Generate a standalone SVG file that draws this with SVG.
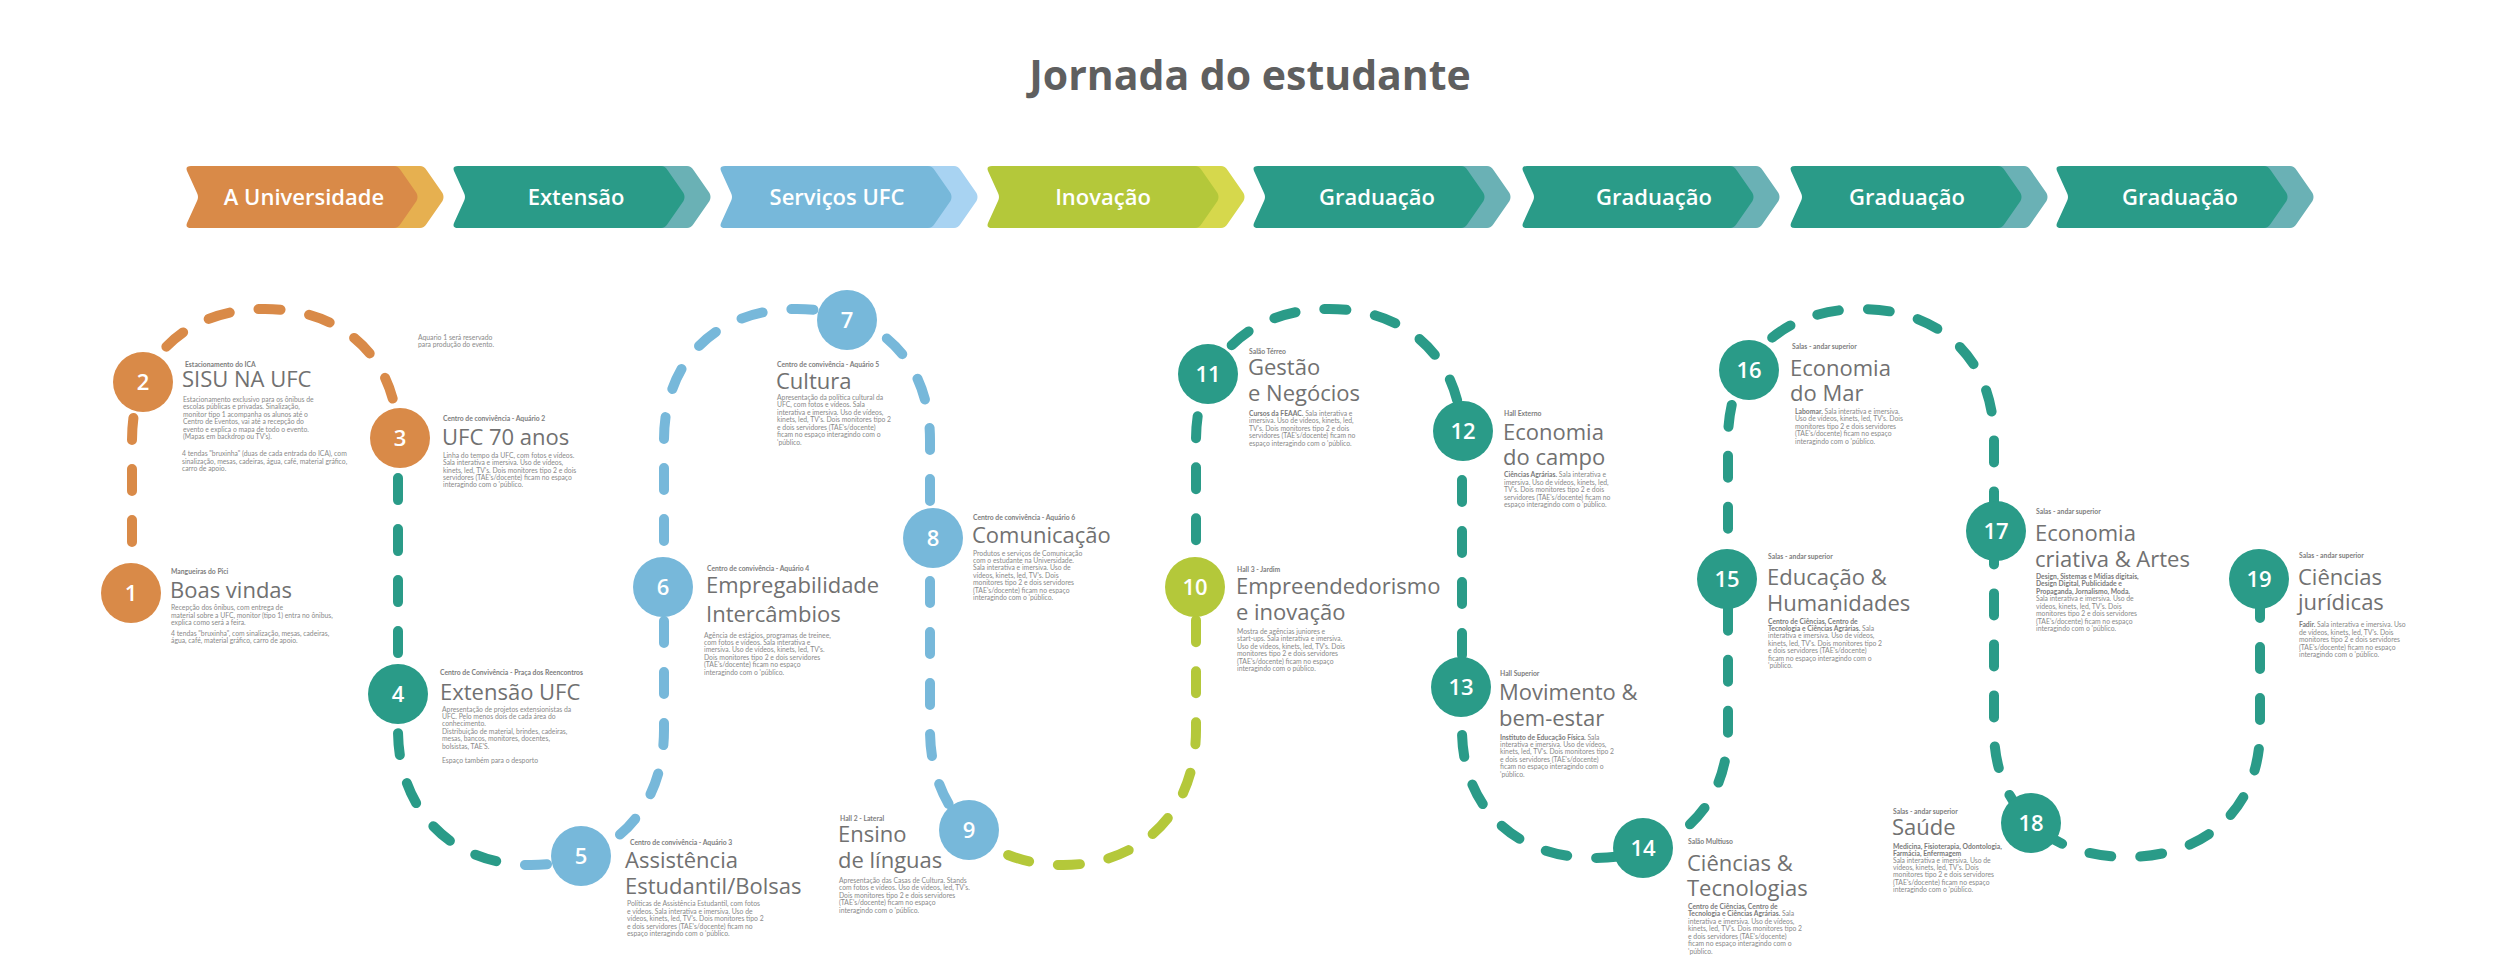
<svg xmlns="http://www.w3.org/2000/svg" xmlns:xlink="http://www.w3.org/1999/xlink" width="2500" height="972" viewBox="0 0 2500 972">
<style>
.title{font-family:"Open Sans","Liberation Sans",sans-serif;font-size:41px;font-weight:700;fill:#5f5f5f;text-anchor:middle}
.bt{font-family:"Open Sans","Liberation Sans",sans-serif;font-size:22px;font-weight:600;fill:#ffffff;text-anchor:middle}
.ttl{font-family:"Open Sans","Liberation Sans",sans-serif;font-size:22px;font-weight:500;fill:#717171}
.loc{font-family:"Lato","Liberation Sans",sans-serif;font-size:6.8px;font-weight:700;fill:#7d7d7d}
.desc{font-family:"Lato","Liberation Sans",sans-serif;font-size:6.8px;fill:#8a8a8a}
.desc .b{font-weight:700;fill:#7a7a7a}
.num{font-family:"Open Sans","Liberation Sans",sans-serif;font-size:22px;font-weight:600;fill:#ffffff;text-anchor:middle}
.route{fill:none;stroke-width:10;stroke-linecap:round;stroke-dasharray:22 29}
.or{fill:#D98A48}.te{fill:#2A9B88}.bl{fill:#77B8DA}.gr{fill:#B4C83A}
</style>
<defs>
<path id="chev" d="M6,0 H209 Q213,0 215.5,4 L231.5,27 Q233.5,31 231.5,35 L215.5,58 Q213,62 209,62 H6 Q0,62 2,57 L12,35 Q14,31 12,27 L2,5 Q0,0 6,0 Z"/>
<path id="routePath" d="M132,593 V440 C132,360 185,309 265,309 C345,309 398,360 398,440 V730 C398,810 451,865 531,865 C611,865 664,810 664,730 V440 C664,360 717,309 797,309 C877,309 930,360 930,440 V730 C930,810 983,865 1063,865 C1143,865 1196,810 1196,730 V440 C1196,360 1249,309 1329,309 C1409,309 1462,360 1462,440 V730 C1462,807 1515,858 1595,858 C1675,858 1728,807 1728,730 V440 C1728,360 1781,309 1861,309 C1941,309 1994,360 1994,440 V730 C1994,807 2047,857 2127,857 C2207,857 2260,807 2260,730 V580"/>
<clipPath id="cOr"><rect x="0" y="0" width="300" height="972"/><rect x="0" y="0" width="420" height="440"/></clipPath>
<clipPath id="cTe1"><rect x="300" y="440" width="207" height="532"/></clipPath>
<clipPath id="cBl"><rect x="507" y="0" width="461" height="972"/></clipPath>
<clipPath id="cGr"><rect x="968" y="587" width="300" height="385"/></clipPath>
<clipPath id="cTe2"><rect x="968" y="0" width="300" height="587"/><rect x="1268" y="0" width="1232" height="972"/></clipPath>
</defs>
<rect width="2500" height="972" fill="#ffffff"/>
<text class="title" x="1250" y="90">Jornada do estudante</text>

<g id="banners">
<g id="banner-1"><use href="#chev" x="211" y="166" fill="#E6B050"/><use href="#chev" x="185" y="166" fill="#D98A48"/><text class="bt" x="304" y="205">A Universidade</text></g>
<g id="banner-2"><use href="#chev" x="478" y="166" fill="#6AB1B5"/><use href="#chev" x="452" y="166" fill="#2A9B88"/><text class="bt" x="576" y="205">Extensão</text></g>
<g id="banner-3"><use href="#chev" x="745" y="166" fill="#A8D3F2"/><use href="#chev" x="719" y="166" fill="#77B8DA"/><text class="bt" x="837" y="205">Serviços UFC</text></g>
<g id="banner-4"><use href="#chev" x="1012" y="166" fill="#D6D84C"/><use href="#chev" x="986" y="166" fill="#B4C83A"/><text class="bt" x="1103" y="205">Inovação</text></g>
<g id="banner-5"><use href="#chev" x="1278" y="166" fill="#6AB1B5"/><use href="#chev" x="1252" y="166" fill="#2A9B88"/><text class="bt" x="1377" y="205">Graduação</text></g>
<g id="banner-6"><use href="#chev" x="1547" y="166" fill="#6AB1B5"/><use href="#chev" x="1521" y="166" fill="#2A9B88"/><text class="bt" x="1654" y="205">Graduação</text></g>
<g id="banner-7"><use href="#chev" x="1815" y="166" fill="#6AB1B5"/><use href="#chev" x="1789" y="166" fill="#2A9B88"/><text class="bt" x="1907" y="205">Graduação</text></g>
<g id="banner-8"><use href="#chev" x="2081" y="166" fill="#6AB1B5"/><use href="#chev" x="2055" y="166" fill="#2A9B88"/><text class="bt" x="2180" y="205">Graduação</text></g>
</g>

<g id="connectors">
<use href="#routePath" class="route" stroke="#D98A48" clip-path="url(#cOr)"/>
<use href="#routePath" class="route" stroke="#2A9B88" clip-path="url(#cTe1)"/>
<use href="#routePath" class="route" stroke="#77B8DA" clip-path="url(#cBl)"/>
<use href="#routePath" class="route" stroke="#B4C83A" clip-path="url(#cGr)"/>
<use href="#routePath" class="route" stroke="#2A9B88" clip-path="url(#cTe2)"/>
</g>

<g id="note-aquario1">
<text class="desc"><tspan x="418" y="339.7">Aquario 1 será reservado</tspan><tspan x="418" y="347.3">para produção do evento.</tspan></text>
</g>

<g id="node-1">
<circle class="or" cx="131" cy="593" r="30"/><text class="num" x="131" y="601">1</text>
<text class="loc" x="171" y="574">Mangueiras do Pici</text>
<text class="ttl" x="170" y="597.7">Boas vindas</text>
<text class="desc"><tspan x="171" y="610.3">Recepção dos ônibus, com entrega de</tspan><tspan x="171" y="618">material sobre a UFC, monitor (tipo 1) entra no ônibus,</tspan><tspan x="171" y="625.3">explica como será a feira.</tspan><tspan x="171" y="635.7">4 tendas "bruxinha", com sinalização, mesas, cadeiras,</tspan><tspan x="171" y="643.3">água, café, material gráfico, carro de apoio.</tspan></text>
</g>

<g id="node-2">
<circle class="or" cx="143" cy="382" r="30"/><text class="num" x="143" y="390">2</text>
<text class="loc" x="185" y="367">Estacionamento do ICA</text>
<text class="ttl" x="182" y="387.3">SISU NA UFC</text>
<text class="desc"><tspan x="183" y="402">Estacionamento exclusivo para os ônibus de</tspan><tspan x="183" y="409.3">escolas públicas e privadas. Sinalização,</tspan><tspan x="183" y="417">monitor tipo 1 acompanha os alunos até o</tspan><tspan x="183" y="424.3">Centro de Eventos, vai até a recepção do</tspan><tspan x="183" y="432">evento e explica o mapa de todo o evento.</tspan><tspan x="183" y="439.3">(Mapas em backdrop ou TV's).</tspan><tspan x="182" y="456">4 tendas "bruxinha" (duas de cada entrada do ICA), com</tspan><tspan x="182" y="463.7">sinalização, mesas, cadeiras, água, café, material gráfico,</tspan><tspan x="182" y="471">carro de apoio.</tspan></text>
</g>

<g id="node-3">
<circle class="or" cx="400" cy="438" r="30"/><text class="num" x="400" y="446">3</text>
<text class="loc" x="443" y="421.3">Centro de convivência - Aquário 2</text>
<text class="ttl" x="442" y="445">UFC 70 anos</text>
<text class="desc"><tspan x="443" y="457.7">Linha do tempo da UFC, com fotos e vídeos.</tspan><tspan x="443" y="465">Sala interativa e imersiva. Uso de vídeos,</tspan><tspan x="443" y="472.7">kinets, led, TV's. Dois monitores tipo 2 e dois</tspan><tspan x="443" y="480">servidores (TAE's/docente) ficam no espaço</tspan><tspan x="443" y="487.3">interagindo com o 'público.</tspan></text>
</g>

<g id="node-4">
<circle class="te" cx="398" cy="694" r="30"/><text class="num" x="398" y="702">4</text>
<text class="loc" x="440" y="675">Centro de Convivência - Praça dos Reencontros</text>
<text class="ttl" x="440" y="700">Extensão UFC</text>
<text class="desc"><tspan x="442" y="711.7">Apresentação de projetos extensionistas da</tspan><tspan x="442" y="719">UFC. Pelo menos dois de cada área do</tspan><tspan x="442" y="726.3">conhecimento.</tspan><tspan x="442" y="733.7">Distribuição de material, brindes, cadeiras,</tspan><tspan x="442" y="741">mesas, bancos, monitores, docentes,</tspan><tspan x="442" y="748.7">bolsistas, TAE'S.</tspan><tspan x="442" y="763.3">Espaço também para o desporto</tspan></text>
</g>

<g id="node-5">
<circle class="bl" cx="581" cy="856" r="30"/><text class="num" x="581" y="864">5</text>
<text class="loc" x="630" y="844.7">Centro de convivência - Aquário 3</text>
<text class="ttl"><tspan x="625" y="867.7">Assistência</tspan><tspan x="625" y="894">Estudantil/Bolsas</tspan></text>
<text class="desc"><tspan x="627" y="906.3">Políticas de Assistência Estudantil, com fotos</tspan><tspan x="627" y="913.7">e vídeos. Sala interativa e imersiva. Uso de</tspan><tspan x="627" y="921.3">vídeos, kinets, led, TV's. Dois monitores tipo 2</tspan><tspan x="627" y="928.7">e dois servidores (TAE's/docente) ficam no</tspan><tspan x="627" y="936.3">espaço interagindo com o 'público.</tspan></text>
</g>

<g id="node-6">
<circle class="bl" cx="663" cy="587" r="30"/><text class="num" x="663" y="595">6</text>
<text class="loc" x="707" y="571.3">Centro de convivência - Aquário 4</text>
<text class="ttl"><tspan x="706" y="593.3">Empregabilidade</tspan><tspan x="706" y="622.3">Intercâmbios</tspan></text>
<text class="desc"><tspan x="704" y="637.7">Agência de estágios, programas de treinee,</tspan><tspan x="704" y="645">com fotos e vídeos. Sala interativa e</tspan><tspan x="704" y="652.3">imersiva. Uso de vídeos, kinets, led, TV's.</tspan><tspan x="704" y="660">Dois monitores tipo 2 e dois servidores</tspan><tspan x="704" y="667.3">(TAE's/docente) ficam no espaço</tspan><tspan x="704" y="675">interagindo com o 'público.</tspan></text>
</g>

<g id="node-7">
<circle class="bl" cx="847" cy="320" r="30"/><text class="num" x="847" y="328">7</text>
<text class="loc" x="777" y="367">Centro de convivência - Aquário 5</text>
<text class="ttl" x="776" y="389.3">Cultura</text>
<text class="desc"><tspan x="777" y="399.7">Apresentação da política cultural da</tspan><tspan x="777" y="407">UFC, com fotos e vídeos. Sala</tspan><tspan x="777" y="414.7">interativa e imersiva. Uso de vídeos,</tspan><tspan x="777" y="422">kinets, led, TV's. Dois monitores tipo 2</tspan><tspan x="777" y="429.7">e dois servidores (TAE's/docente)</tspan><tspan x="777" y="437">ficam no espaço interagindo com o</tspan><tspan x="777" y="444.7">'público.</tspan></text>
</g>

<g id="node-8">
<circle class="bl" cx="933" cy="538" r="30"/><text class="num" x="933" y="546">8</text>
<text class="loc" x="973" y="519.8">Centro de convivência - Aquário 6</text>
<text class="ttl" x="972" y="543.3">Comunicação</text>
<text class="desc"><tspan x="973" y="555.5">Produtos e serviços de Comunicação</tspan><tspan x="973" y="562.9">com o estudante na Universidade.</tspan><tspan x="973" y="570.4">Sala interativa e imersiva. Uso de</tspan><tspan x="973" y="577.8">vídeos, kinets, led, TV's. Dois</tspan><tspan x="973" y="585.3">monitores tipo 2 e dois servidores</tspan><tspan x="973" y="592.7">(TAE's/docente) ficam no espaço</tspan><tspan x="973" y="600.3">interagindo com o 'público.</tspan></text>
</g>

<g id="node-9">
<circle class="bl" cx="969" cy="830" r="30"/><text class="num" x="969" y="838">9</text>
<text class="loc" x="840" y="821.3">Hall 2 - Lateral</text>
<text class="ttl"><tspan x="838" y="842.3">Ensino</tspan><tspan x="838" y="868.3">de línguas</tspan></text>
<text class="desc"><tspan x="839" y="882.7">Apresentação das Casas de Cultura. Stands</tspan><tspan x="839" y="890.3">com fotos e vídeos. Uso de vídeos, led, TV's.</tspan><tspan x="839" y="898">Dois monitores tipo 2 e dois servidores</tspan><tspan x="839" y="905.3">(TAE's/docente) ficam no espaço</tspan><tspan x="839" y="912.7">interagindo com o 'público.</tspan></text>
</g>

<g id="node-10">
<circle class="gr" cx="1195" cy="587" r="30"/><text class="num" x="1195" y="595">10</text>
<text class="loc" x="1237" y="572.3">Hall 3 - Jardim</text>
<text class="ttl"><tspan x="1236" y="594">Empreendedorismo</tspan><tspan x="1236" y="620">e inovação</tspan></text>
<text class="desc"><tspan x="1237" y="634">Mostra de agências juniores e</tspan><tspan x="1237" y="641.3">start-ups. Sala interativa e imersiva.</tspan><tspan x="1237" y="648.7">Uso de vídeos, kinets, led, TV's. Dois</tspan><tspan x="1237" y="656.3">monitores tipo 2 e dois servidores</tspan><tspan x="1237" y="663.7">(TAE's/docente) ficam no espaço</tspan><tspan x="1237" y="671.3">interagindo com o público.</tspan></text>
</g>

<g id="node-11">
<circle class="te" cx="1208" cy="374" r="30"/><text class="num" x="1208" y="382">11</text>
<text class="loc" x="1249" y="354">Salão Térreo</text>
<text class="ttl"><tspan x="1248" y="375">Gestão</tspan><tspan x="1248" y="401">e Negócios</tspan></text>
<text class="desc"><tspan x="1249" y="415.7"><tspan class="b">Cursos da FEAAC.</tspan> Sala interativa e</tspan><tspan x="1249" y="423">imersiva. Uso de vídeos, kinets, led,</tspan><tspan x="1249" y="430.7">TV's. Dois monitores tipo 2 e dois</tspan><tspan x="1249" y="438">servidores (TAE's/docente) ficam no</tspan><tspan x="1249" y="445.7">espaço interagindo com o 'público.</tspan></text>
</g>

<g id="node-12">
<circle class="te" cx="1463" cy="431" r="30"/><text class="num" x="1463" y="439">12</text>
<text class="loc" x="1504" y="415.7">Hall Externo</text>
<text class="ttl"><tspan x="1503" y="440">Economia</tspan><tspan x="1503" y="465">do campo</tspan></text>
<text class="desc"><tspan x="1504" y="477.3"><tspan class="b">Ciências Agrárias.</tspan> Sala interativa e</tspan><tspan x="1504" y="484.7">imersiva. Uso de vídeos, kinets, led,</tspan><tspan x="1504" y="492">TV's. Dois monitores tipo 2 e dois</tspan><tspan x="1504" y="499.7">servidores (TAE's/docente) ficam no</tspan><tspan x="1504" y="507">espaço interagindo com o 'público.</tspan></text>
</g>

<g id="node-13">
<circle class="te" cx="1461" cy="687" r="30"/><text class="num" x="1461" y="695">13</text>
<text class="loc" x="1500" y="676">Hall Superior</text>
<text class="ttl"><tspan x="1499" y="699.8">Movimento &amp;</tspan><tspan x="1499" y="725.6">bem-estar</tspan></text>
<text class="desc"><tspan x="1500" y="739.5"><tspan class="b">Instituto de Educação Física.</tspan> Sala</tspan><tspan x="1500" y="746.8">interativa e imersiva. Uso de vídeos,</tspan><tspan x="1500" y="754.1">kinets, led, TV's. Dois monitores tipo 2</tspan><tspan x="1500" y="761.7">e dois servidores (TAE's/docente)</tspan><tspan x="1500" y="769">ficam no espaço interagindo com o</tspan><tspan x="1500" y="776.7">'público.</tspan></text>
</g>

<g id="node-14">
<circle class="te" cx="1643" cy="848" r="30"/><text class="num" x="1643" y="856">14</text>
<text class="loc" x="1688" y="843.7">Salão Multiuso</text>
<text class="ttl"><tspan x="1687" y="870.5">Ciências &amp;</tspan><tspan x="1687" y="895.5">Tecnologias</tspan></text>
<text class="desc"><tspan x="1688" y="909" class="b">Centro de Ciências, Centro de</tspan><tspan x="1688" y="916.3"><tspan class="b">Tecnologia e Ciências Agrárias.</tspan> Sala</tspan><tspan x="1688" y="924">interativa e imersiva. Uso de vídeos,</tspan><tspan x="1688" y="931.3">kinets, led, TV's. Dois monitores tipo 2</tspan><tspan x="1688" y="939">e dois servidores (TAE's/docente)</tspan><tspan x="1688" y="946.3">ficam no espaço interagindo com o</tspan><tspan x="1688" y="953.7">'público.</tspan></text>
</g>

<g id="node-15">
<circle class="te" cx="1727" cy="579" r="30"/><text class="num" x="1727" y="587">15</text>
<text class="loc" x="1768" y="558.7">Salas - andar superior</text>
<text class="ttl"><tspan x="1767" y="585">Educação &amp;</tspan><tspan x="1767" y="611">Humanidades</tspan></text>
<text class="desc"><tspan x="1768" y="623.7" class="b">Centro de Ciências, Centro de</tspan><tspan x="1768" y="631"><tspan class="b">Tecnologia e Ciências Agrárias.</tspan> Sala</tspan><tspan x="1768" y="638.3">interativa e imersiva. Uso de vídeos,</tspan><tspan x="1768" y="646">kinets, led, TV's. Dois monitores tipo 2</tspan><tspan x="1768" y="653.3">e dois servidores (TAE's/docente)</tspan><tspan x="1768" y="661">ficam no espaço interagindo com o</tspan><tspan x="1768" y="668.3">'público.</tspan></text>
</g>

<g id="node-16">
<circle class="te" cx="1749" cy="370" r="30"/><text class="num" x="1749" y="378">16</text>
<text class="loc" x="1792" y="348.7">Salas - andar superior</text>
<text class="ttl"><tspan x="1790" y="375.7">Economia</tspan><tspan x="1790" y="401">do Mar</tspan></text>
<text class="desc"><tspan x="1795" y="413.7"><tspan class="b">Labomar.</tspan> Sala interativa e imersiva.</tspan><tspan x="1795" y="421.3">Uso de vídeos, kinets, led, TV's. Dois</tspan><tspan x="1795" y="428.7">monitores tipo 2 e dois servidores</tspan><tspan x="1795" y="436.3">(TAE's/docente) ficam no espaço</tspan><tspan x="1795" y="443.7">interagindo com o 'público.</tspan></text>
</g>

<g id="node-17">
<circle class="te" cx="1996" cy="531" r="30"/><text class="num" x="1996" y="539">17</text>
<text class="loc" x="2036" y="513.7">Salas - andar superior</text>
<text class="ttl"><tspan x="2035" y="540.7">Economia</tspan><tspan x="2035" y="566.7">criativa &amp; Artes</tspan></text>
<text class="desc"><tspan x="2036" y="579" class="b">Design, Sistemas e Mídias digitais,</tspan><tspan x="2036" y="586.3" class="b">Design Digital, Publicidade e</tspan><tspan x="2036" y="594" class="b">Propaganda, Jornalismo, Moda.</tspan><tspan x="2036" y="601.3">Sala interativa e imersiva. Uso de</tspan><tspan x="2036" y="608.7">vídeos, kinets, led, TV's. Dois</tspan><tspan x="2036" y="616.3">monitores tipo 2 e dois servidores</tspan><tspan x="2036" y="623.7">(TAE's/docente) ficam no espaço</tspan><tspan x="2036" y="631.3">interagindo com o 'público.</tspan></text>
</g>

<g id="node-18">
<circle class="te" cx="2031" cy="823" r="30"/><text class="num" x="2031" y="831">18</text>
<text class="loc" x="1893" y="813.7">Salas - andar superior</text>
<text class="ttl" x="1892" y="835">Saúde</text>
<text class="desc"><tspan x="1893" y="848.7" class="b">Medicina, Fisioterapia, Odontologia,</tspan><tspan x="1893" y="855.6" class="b">Farmácia, Enfermagem</tspan><tspan x="1893" y="862.7">Sala interativa e imersiva. Uso de</tspan><tspan x="1893" y="870">vídeos, kinets, led, TV's. Dois</tspan><tspan x="1893" y="877.3">monitores tipo 2 e dois servidores</tspan><tspan x="1893" y="884.7">(TAE's/docente) ficam no espaço</tspan><tspan x="1893" y="892">interagindo com o 'público.</tspan></text>
</g>

<g id="node-19">
<circle class="te" cx="2259" cy="579" r="30"/><text class="num" x="2259" y="587">19</text>
<text class="loc" x="2299" y="557.7">Salas - andar superior</text>
<text class="ttl"><tspan x="2298" y="585">Ciências</tspan><tspan x="2298" y="610">jurídicas</tspan></text>
<text class="desc"><tspan x="2299" y="627.3"><tspan class="b">Fadir.</tspan> Sala interativa e imersiva. Uso</tspan><tspan x="2299" y="634.7">de vídeos, kinets, led, TV's. Dois</tspan><tspan x="2299" y="642.3">monitores tipo 2 e dois servidores</tspan><tspan x="2299" y="649.7">(TAE's/docente) ficam no espaço</tspan><tspan x="2299" y="657.3">interagindo com o 'público.</tspan></text>
</g>
</svg>
